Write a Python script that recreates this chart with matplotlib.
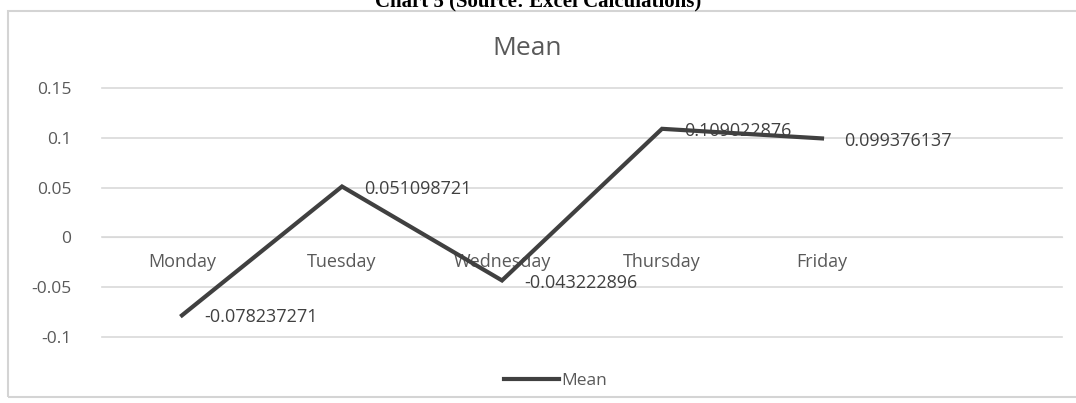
import matplotlib
matplotlib.use("Agg")
import matplotlib.pyplot as plt
from matplotlib.patches import Rectangle

# data
days = ["Monday", "Tuesday", "Wednesday", "Thursday", "Friday"]
mean_vals = [-0.078237271, 0.051098721, -0.043222896, 0.109022876, 0.099376137]
mean_labels = ["-0.078237271", "0.051098721", "-0.043222896", "0.109022876", "0.099376137"]
y_ticks = [-0.1, -0.05, 0, 0.05, 0.1, 0.15]
y_tick_labels = ["-0.1", "-0.05", "0", "0.05", "0.1", "0.15"]

plt.rcParams['font.family'] = ['Open Sans', 'DejaVu Sans']
txt_col = '#595959'
grid_col = '#d9d9d9'

fig = plt.figure(figsize=(10.76, 4.03), dpi=100)

# outer chart frame (Excel chart area), right edge runs off the image
fig.patches.append(Rectangle((8 / 1076, 6 / 403), 1.2, 386 / 403, transform=fig.transFigure,
                             fill=False, edgecolor='#d4d4d4', linewidth=1.5))

# caption cut at top of the image
fig.text(0.5, 1 - 1 / 403, "Chart 5 (Source: Excel Calculations)", ha='center', va='center',
         fontsize=15, fontweight='bold', family=['Liberation Serif'], color='black')

ax = fig.add_axes([102 / 1076, 66 / 403, 960 / 1076, 249 / 403])
x = list(range(len(days)))
ax.plot(x, mean_vals, color='#404040', linewidth=3, solid_joinstyle='miter', label='Mean', zorder=3)

for xi, v, lab in zip(x, mean_vals, mean_labels):
    ax.annotate(lab, (xi, v), xytext=(16, -1.5), textcoords='offset points',
                ha='left', va='center', fontsize=13, color='#404040', zorder=4)

ax.set_xlim(-0.5, 5.5)
ax.set_ylim(-0.1, 0.15)
ax.set_yticks(y_ticks)
ax.set_yticklabels(y_tick_labels)
ax.set_xticks(x)
ax.set_xticklabels(days)

ax.yaxis.grid(True, color=grid_col, linewidth=1.2)
for gl in ax.get_ygridlines():
    gl.set_clip_on(False)
ax.set_axisbelow(True)
for s in ['top', 'right', 'left']:
    ax.spines[s].set_visible(False)
ax.spines['bottom'].set_position(('data', 0))
ax.spines['bottom'].set_color(grid_col)
ax.tick_params(axis='x', length=0, pad=11, labelsize=13, labelcolor=txt_col)
ax.tick_params(axis='y', length=0, pad=22, labelsize=12.5, labelcolor=txt_col)

ax.set_title("Mean", fontsize=19, color=txt_col, pad=24, x=0.443)

ax.legend(loc='upper center', bbox_to_anchor=(0.472, -0.08), frameon=False, fontsize=12.5,
          handlelength=3.2, handletextpad=0.1, labelcolor=txt_col)

fig.savefig("out.png", dpi=100)
